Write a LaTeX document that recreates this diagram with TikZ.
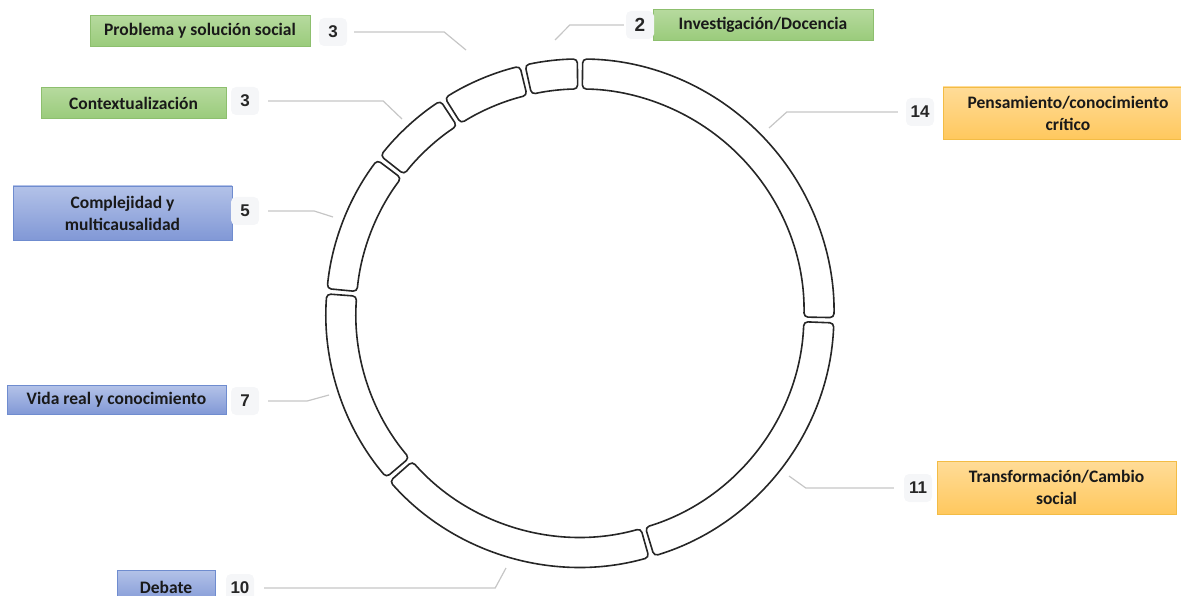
\documentclass[tikz,border=0pt]{standalone}
\usepackage{fontspec}
\setmainfont{Carlito}
\newfontfamily\numfont{Liberation Sans}
\definecolor{greentop}{HTML}{B6DA9E}
\definecolor{greenbot}{HTML}{9ACB7B}
\definecolor{greenline}{HTML}{8DBF6E}
\definecolor{bluetop}{HTML}{B3C2E8}
\definecolor{bluebot}{HTML}{8198D6}
\definecolor{blueline}{HTML}{6F8CCF}
\definecolor{orangetop}{HTML}{FFDC98}
\definecolor{orangebot}{HTML}{FFC85E}
\definecolor{orangeline}{HTML}{F3BC45}
\definecolor{numgrey}{HTML}{F5F6F8}
\definecolor{leadgrey}{HTML}{C6C6C6}
\newcommand{\ringout}{254pt}
\newcommand{\ringin}{224pt}

\begin{document}
\begin{tikzpicture}[x=1pt,y=1pt]
  \tikzstyle{box}=[minimum height=31pt, align=center, inner sep=2pt,
       font=\fontsize{17.5}{22}\selectfont\bfseries, text=black!90,
       line width=0.8pt]
  \tikzstyle{greenbox}=[box, draw=greenline, top color=greentop, bottom color=greenbot]
  \tikzstyle{bluebox}=[box, draw=blueline, top color=bluetop, bottom color=bluebot]
  \tikzstyle{orangebox}=[box, draw=orangeline, top color=orangetop, bottom color=orangebot]
  \tikzstyle{numbox}=[fill=numgrey, rounded corners=5pt, minimum width=28pt,
       minimum height=28pt, inner sep=2pt, text=black!85,
       font=\numfont\fontsize{17}{17}\selectfont\bfseries]
  \tikzstyle{lead}=[draw=leadgrey, line width=1.2pt]
  \tikzstyle{ringseg}=[draw=black!85, line width=1.6pt, rounded corners=4pt]
  \clip (0,0) rectangle (1181,-596);

  % ring, one piece per count, clockwise from the top
  \begin{scope}[shift={(580,-313)}]
    \foreach \a/\b in {90/-1.64, -1.64/-73.64, -73.64/-139.09, -139.09/-184.91,
                       -184.91/-217.64, -217.64/-237.27, -237.27/-256.91, -256.91/-270}
    {
      \pgfmathsetmacro\s{\a-0.6}
      \pgfmathsetmacro\e{\b+0.6}
      \draw[ringseg] (\s:\ringout) arc[start angle=\s, end angle=\e, radius=\ringout]
        -- (\e:\ringin) arc[start angle=\e, end angle=\s, radius=\ringin] -- cycle;
    }
  \end{scope}

  \node[greenbox, minimum width=220pt] (prob) at (200,-31) {Problema y solución social};
  \node[greenbox, minimum width=220pt] (inv) at (763,-25) {Investigación/Docencia};
  \node[greenbox, minimum width=185pt] (cont) at (133.5,-103) {Contextualización};
  \node[bluebox, minimum width=219pt, minimum height=54pt] (compl) at (122.5,-213)
       {Complejidad y\\multicausalidad};
  \node[bluebox, minimum width=219pt, minimum height=29pt] (vida) at (116.5,-400)
       {Vida real y conocimiento};
  \node[bluebox, minimum width=98pt, minimum height=34pt] (deb) at (166,-587) {Debate};
  \node[orangebox, minimum width=250pt, minimum height=52pt] (pens) at (1068,-113)
       {Pensamiento/conocimiento\\crítico};
  \node[orangebox, minimum width=239pt, minimum height=53pt] (trans) at (1056.5,-487.5)
       {Transformación/Cambio\\social};

  \node[numbox] (n-prob) at (333,-32) {3};
  \node[numbox, font=\numfont\fontsize{19}{19}\selectfont\bfseries] (n-inv) at (640,-25) {2};
  \node[numbox] (n-cont) at (245,-101) {3};
  \node[numbox] (n-compl) at (245,-211) {5};
  \node[numbox] (n-vida) at (245,-401) {7};
  \node[numbox] (n-deb) at (240,-588) {10};
  \node[numbox] (n-pens) at (920,-112) {14};
  \node[numbox] (n-trans) at (918,-488) {11};

  \coordinate (t-prob) at (466,-50);
  \coordinate (t-inv) at (555,-40);
  \coordinate (t-cont) at (402,-119);
  \coordinate (t-compl) at (333,-217);
  \coordinate (t-vida) at (329,-395);
  \coordinate (t-deb) at (506,-568);
  \coordinate (t-pens) at (769,-128);
  \coordinate (t-trans) at (789,-476);

  \draw[lead, shorten <=7pt] (n-prob.east) -- ++(97,0) -- (t-prob);
  \draw[lead, shorten <=2pt] (n-inv.west) -- ++(-56,0) -- (t-inv);
  \draw[lead, shorten <=9pt] (n-cont.east) -- ++(124,0) -- (t-cont);
  \draw[lead, shorten <=9pt] (n-compl.east) -- ++(55,0) -- (t-compl);
  \draw[lead, shorten <=9pt] (n-vida.east) -- ++(48,0) -- (t-vida);
  \draw[lead, shorten <=10pt] (n-deb.east) -- ++(241,0) -- (t-deb);
  \draw[lead, shorten <=8pt] (n-pens.west) -- ++(-119,0) -- (t-pens);
  \draw[lead, shorten <=10pt] (n-trans.west) -- ++(-98,0) -- (t-trans);
\end{tikzpicture}
\end{document}
